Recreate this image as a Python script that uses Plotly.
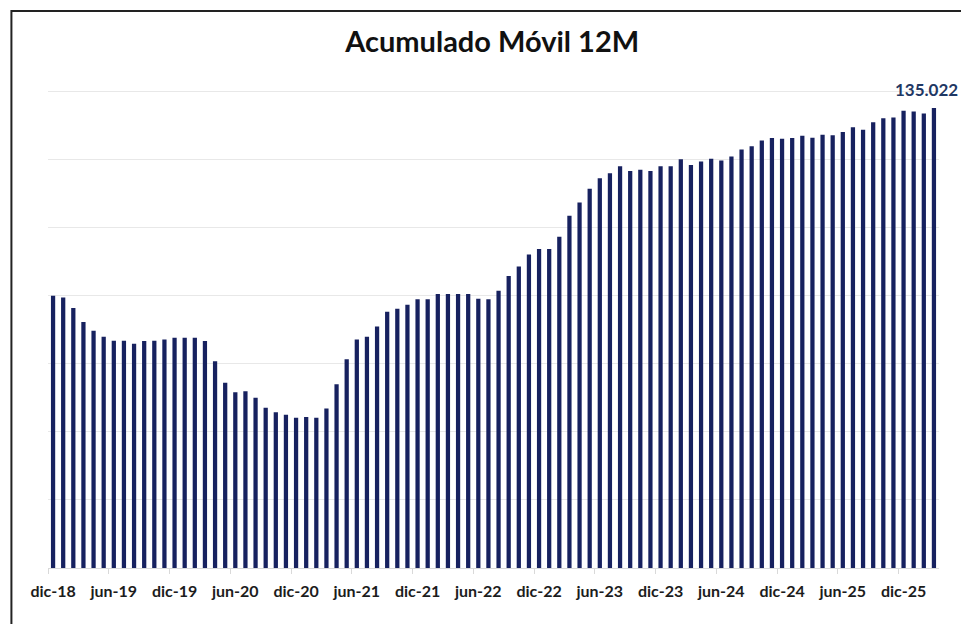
import plotly.graph_objects as go

month_abbr = ["ene", "feb", "mar", "abr", "may", "jun", "jul", "ago", "sep", "oct", "nov", "dic"]
# Monthly categories dic-18 .. mar-26
months = ["dic-18"] + [f"{m}-{y:02d}" for y in range(19, 27) for m in month_abbr]
months = months[: months.index("mar-26") + 1]

# 12-month rolling accumulated values (thousands)
values = [
    79.9, 79.4, 76.3, 72.2, 69.6, 67.9, 66.7, 66.7, 65.8, 66.6, 66.7, 67.1, 67.6, 67.6, 67.6, 66.6, 60.7, 54.4,
    51.6, 51.9, 50.0, 47.0, 45.7, 45.0, 44.1, 44.3, 44.1, 46.8, 53.9, 61.3, 67.1, 67.9,
    70.9, 75.2, 76.1, 77.3, 78.9, 78.9, 80.4, 80.4, 80.4, 80.4, 79.0, 78.9,
    81.4, 85.7, 88.5, 92.0, 93.6, 93.6, 97.2, 103.4, 107.3, 111.3, 114.4, 115.9, 117.9, 116.5, 116.9, 116.5, 117.9, 117.9, 120.0,
    118.3, 119.3, 120.1, 119.6, 120.8, 122.8, 123.8, 125.5, 126.2, 126.0, 126.2, 126.9,
    126.3, 127.2, 127.0, 128.0, 129.4, 128.6, 130.8, 132.0, 132.2, 134.2, 134.0, 133.4, 135.022,
]

tick_labels = ["dic-18", "jun-19", "dic-19", "jun-20", "dic-20", "jun-21", "dic-21", "jun-22",
               "dic-22", "jun-23", "dic-23", "jun-24", "dic-24", "jun-25", "dic-25"]

x_idx = list(range(len(months)))
tick_pos = [months.index(t) for t in tick_labels]
boundary_pos = [p - 0.5 for p in tick_pos]

# page body has an 8px margin; the figure is sized/placed to compensate
OFF = 8
W, H = 969 - OFF, 632 - 2 * OFF
ML, MR, MT, MB = 47.6 - OFF, 30, 90 - OFF, H - (568 - OFF)
pw, ph = W - ML - MR, H - MT - MB

fig = go.Figure(go.Bar(
    x=x_idx, y=values, marker=dict(color="#17215f", line=dict(width=0)),
    width=0.42, hovertext=months, hoverinfo="text+y",
))

last = len(values) - 1
fig.add_annotation(
    x=last, y=values[last], text=f"{values[last]:.3f}", showarrow=False,
    xanchor="right", xshift=26,
    yanchor="bottom", yshift=6, font=dict(family="Lato", size=17, color="#1f3864", weight="bold"),
)

# outer frame
fig.add_shape(type="rect", xref="paper", yref="paper",
              x0=(11 - OFF - ML) / pw, x1=(W + 20 - ML) / pw,
              y0=-(MB + 40) / ph, y1=(H - MB - (11 - OFF)) / ph,
              line=dict(color="#222222", width=2), layer="below")

fig.update_layout(
    width=W, height=H, margin=dict(l=ML, r=MR, t=MT, b=MB),
    paper_bgcolor="white", plot_bgcolor="white", showlegend=False,
    title=dict(text="Acumulado Móvil 12M", x=(492 - OFF - ML) / pw, xref="paper", xanchor="center",
               y=1 - (42 - OFF) / H, yanchor="middle",
               font=dict(family="Lato", size=29, color="#111111", weight="bold")),
    xaxis=dict(range=[-0.5, len(values) - 0.5], tickmode="array", tickvals=tick_pos, ticktext=tick_labels,
               ticks="outside", ticklen=0, ticklabelstandoff=9,
               tickfont=dict(family="Lato", size=16, color="#1c1c1c", weight="bold"),
               showline=True, linecolor="#d9d9d9", linewidth=1, showgrid=False, zeroline=False,
               minor=dict(tickmode="array", tickvals=boundary_pos, ticks="outside", ticklen=5,
                          tickcolor="#d9d9d9", showgrid=False)),
    yaxis=dict(range=[0, 140.3], tickmode="array", tickvals=[20, 40, 60, 80, 100, 120, 140],
               showticklabels=False, showgrid=True, gridcolor="#e8e8e8",
               gridwidth=1, zeroline=False, showline=False),
    bargap=0.58,
)

fig.write_html("out.html")
